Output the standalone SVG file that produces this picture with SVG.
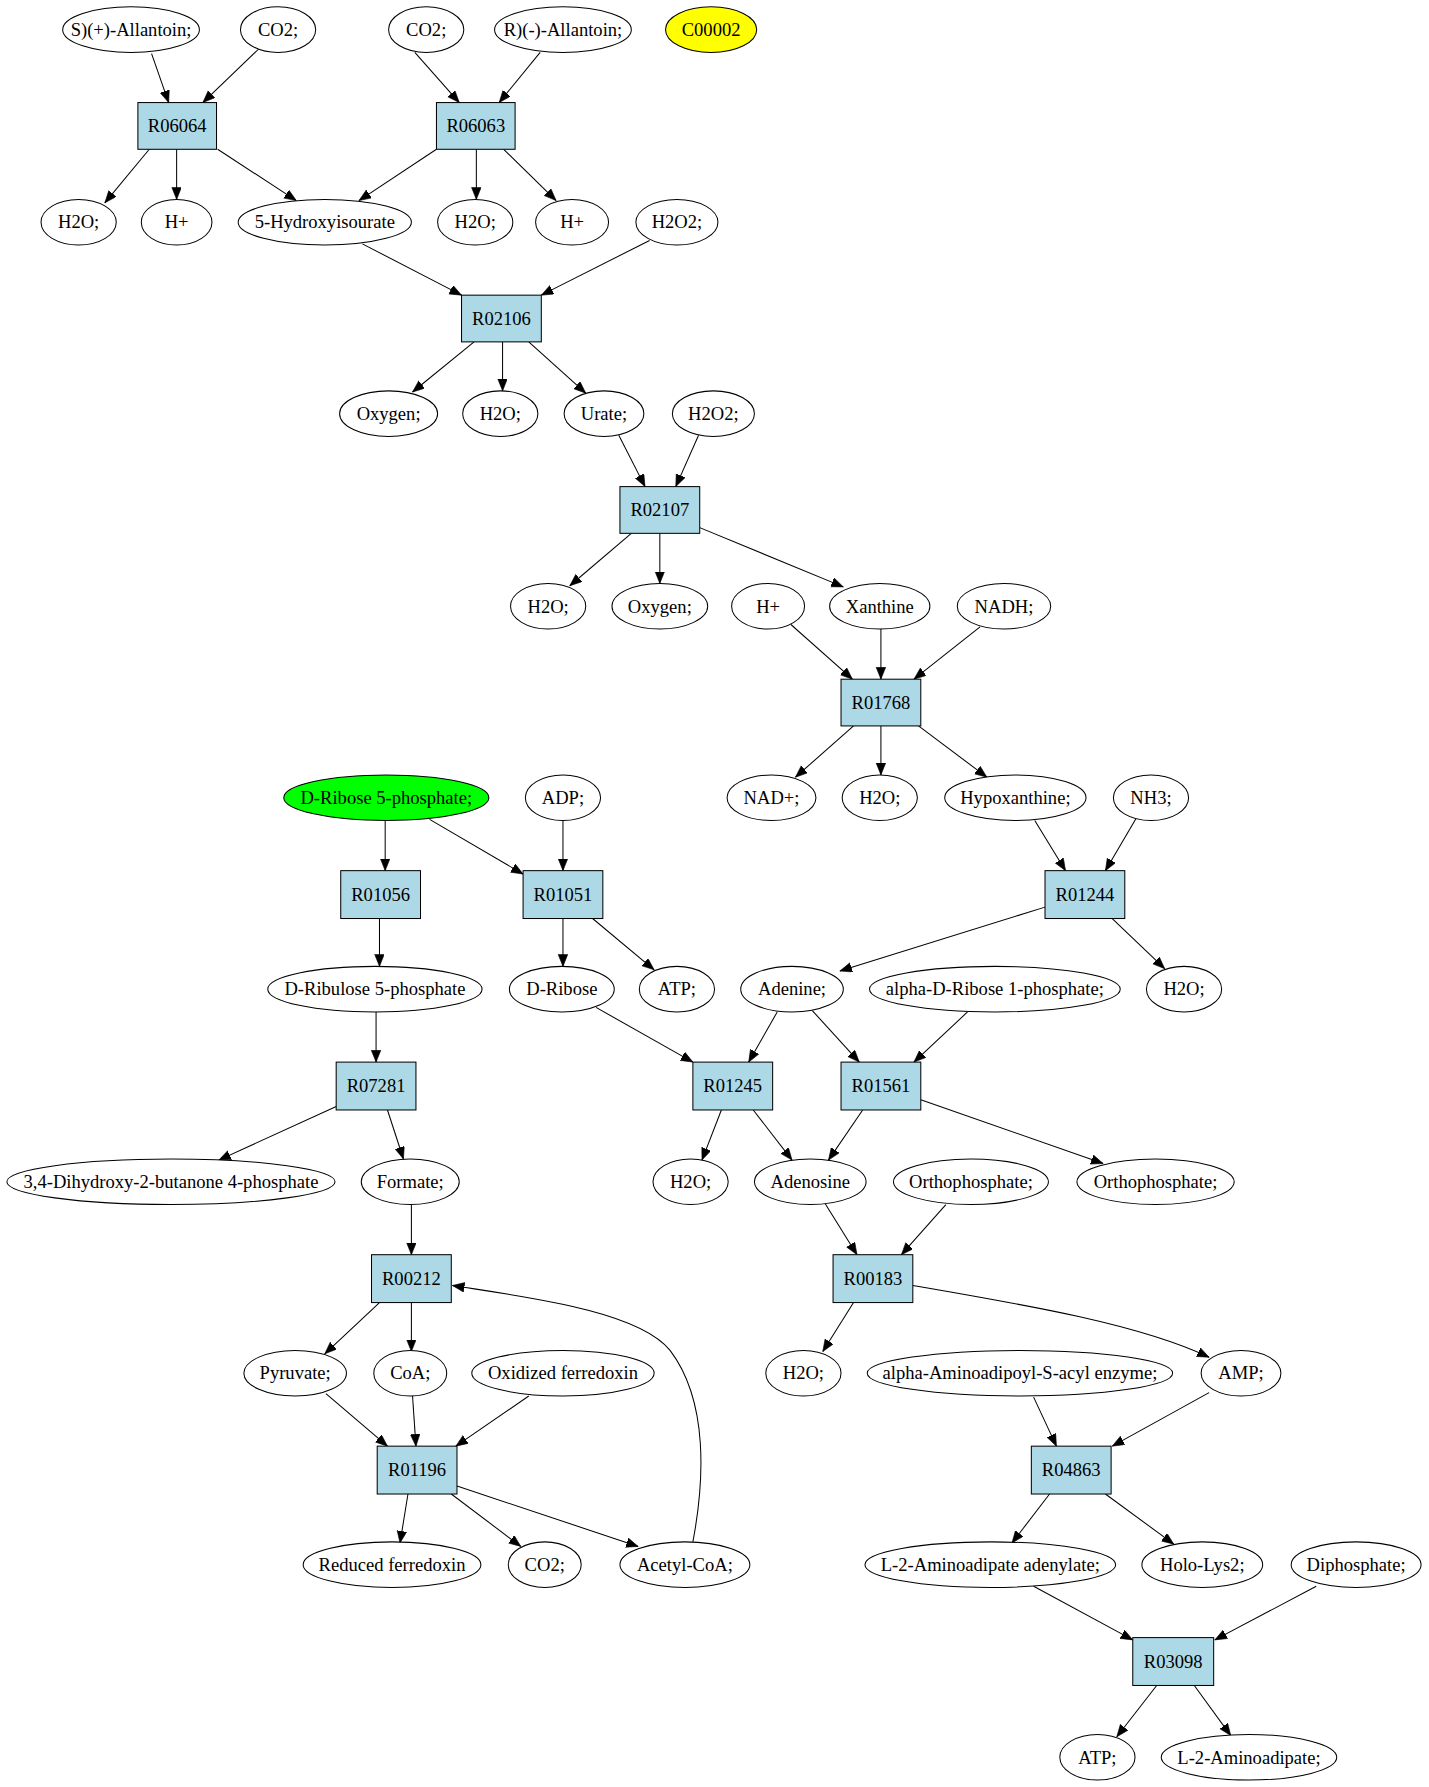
<svg xmlns="http://www.w3.org/2000/svg" width="1429" height="1787" viewBox="0 0 1429 1787">
<style>
.c ellipse{fill:#fff;stroke:#000;stroke-width:0.9}
.r rect{fill:#add8e6;stroke:#000;stroke-width:0.9}
text{font-family:"Liberation Serif","Times New Roman",serif;font-size:16.3px;text-anchor:middle;fill:#000}
.e line,.e path{stroke:#000;stroke-width:0.9;fill:none;marker-end:url(#a)}
</style>
<defs>
<marker id="a" markerUnits="userSpaceOnUse" markerWidth="12" markerHeight="10" refX="10.5" refY="4.2" orient="auto">
<path d="M0,0 L10.5,4.2 L0,8.4 z" fill="#000" stroke="#000" stroke-width="0.5"/>
</marker>
</defs>
<rect width="1429" height="1787" fill="#fff"/>
<g transform="scale(1.1396)">
<g class="e" id="edges">
<line x1="133" y1="47" x2="148" y2="90"/>
<line x1="227" y1="43" x2="178" y2="90"/>
<line x1="364" y1="46" x2="403" y2="90"/>
<line x1="474" y1="46" x2="438" y2="90"/>
<line x1="131" y1="131" x2="92" y2="178"/>
<line x1="155" y1="131" x2="155" y2="175"/>
<line x1="191" y1="131" x2="260" y2="176"/>
<line x1="383" y1="131" x2="315" y2="176"/>
<line x1="418" y1="131" x2="418" y2="175"/>
<line x1="442" y1="131" x2="488" y2="176"/>
<line x1="318" y1="214" x2="405" y2="259"/>
<line x1="570" y1="211" x2="475" y2="259"/>
<line x1="416" y1="300" x2="362" y2="344"/>
<line x1="441" y1="300" x2="441" y2="343"/>
<line x1="464" y1="300" x2="514" y2="345"/>
<line x1="543" y1="382" x2="566" y2="427"/>
<line x1="613" y1="382" x2="593" y2="427"/>
<line x1="554" y1="468" x2="500" y2="514"/>
<line x1="579" y1="468" x2="579" y2="512"/>
<line x1="614" y1="463" x2="740" y2="515"/>
<line x1="694" y1="548" x2="748" y2="596"/>
<line x1="773" y1="552" x2="773" y2="596"/>
<line x1="860" y1="550" x2="802" y2="596"/>
<line x1="749" y1="637" x2="698" y2="682"/>
<line x1="773" y1="637" x2="773" y2="680"/>
<line x1="806" y1="637" x2="866" y2="682"/>
<line x1="908" y1="720" x2="935" y2="764"/>
<line x1="997" y1="718" x2="970" y2="764"/>
<line x1="917" y1="796" x2="737" y2="852"/>
<line x1="976" y1="806" x2="1022" y2="850"/>
<line x1="338" y1="720" x2="338" y2="764"/>
<line x1="377" y1="719" x2="459" y2="767"/>
<line x1="494" y1="720" x2="494" y2="764"/>
<line x1="333" y1="806" x2="333" y2="848"/>
<line x1="494" y1="806" x2="494" y2="848"/>
<line x1="520" y1="806" x2="574" y2="851"/>
<line x1="330" y1="888" x2="330" y2="932"/>
<line x1="295" y1="971" x2="192" y2="1018"/>
<line x1="340" y1="974" x2="354" y2="1017"/>
<line x1="523" y1="884" x2="608" y2="932"/>
<line x1="682" y1="888" x2="657" y2="932"/>
<line x1="713" y1="887" x2="754" y2="932"/>
<line x1="849" y1="888" x2="802" y2="932"/>
<line x1="633" y1="974" x2="616" y2="1018"/>
<line x1="661" y1="974" x2="695" y2="1018"/>
<line x1="757" y1="974" x2="727" y2="1018"/>
<line x1="808" y1="965" x2="968" y2="1021"/>
<line x1="724" y1="1056" x2="752" y2="1101"/>
<line x1="830" y1="1057" x2="791" y2="1101"/>
<line x1="749" y1="1143" x2="722" y2="1186"/>
<path d="M801,1128 C900,1145 1000,1162 1061,1191"/>
<line x1="361" y1="1057" x2="361" y2="1101"/>
<line x1="333" y1="1143" x2="285" y2="1188"/>
<line x1="361" y1="1143" x2="361" y2="1186"/>
<line x1="286" y1="1223" x2="340" y2="1269"/>
<line x1="362" y1="1225" x2="365" y2="1269"/>
<line x1="464" y1="1225" x2="400" y2="1269"/>
<line x1="358" y1="1311" x2="351" y2="1354"/>
<line x1="396" y1="1311" x2="457" y2="1357"/>
<line x1="401" y1="1304" x2="560" y2="1357"/>
<path d="M608,1353 C618,1300 622,1230 588,1185 C560,1150 460,1138 397,1128"/>
<line x1="907" y1="1226" x2="927" y2="1269"/>
<line x1="1061" y1="1222" x2="976" y2="1269"/>
<line x1="921" y1="1311" x2="888" y2="1354"/>
<line x1="970" y1="1311" x2="1030" y2="1355"/>
<line x1="907" y1="1392" x2="994" y2="1439"/>
<line x1="1155" y1="1392" x2="1066" y2="1439"/>
<line x1="1015" y1="1479" x2="980" y2="1524"/>
<line x1="1048" y1="1479" x2="1080" y2="1523"/>
</g>
<g class="c" id="c_sallantoin"><ellipse cx="115" cy="26" rx="60" ry="20"/><text x="115" y="31.5">S)(+)-Allantoin;</text></g>
<g class="c" id="c_co2_a"><ellipse cx="244" cy="26" rx="33" ry="20"/><text x="244" y="31.5">CO2;</text></g>
<g class="c" id="c_co2_b"><ellipse cx="374" cy="26" rx="33" ry="20"/><text x="374" y="31.5">CO2;</text></g>
<g class="c" id="c_rallantoin"><ellipse cx="494" cy="26" rx="60" ry="20"/><text x="494" y="31.5">R)(-)-Allantoin;</text></g>
<g id="c00002"><ellipse cx="624" cy="26" rx="40" ry="20" fill="#ffff00" stroke="#000" stroke-width="0.9"/><text x="624" y="31.5">C00002</text></g>
<g class="r" id="R06064"><rect x="121" y="90" width="69" height="41"/><text x="155.5" y="116">R06064</text></g>
<g class="r" id="R06063"><rect x="383" y="90" width="69" height="41"/><text x="417.5" y="116">R06063</text></g>
<g class="c" id="c_h2o_1"><ellipse cx="69" cy="195" rx="33" ry="20"/><text x="69" y="200.5">H2O;</text></g>
<g class="c" id="c_hp_1"><ellipse cx="155" cy="195" rx="31" ry="20"/><text x="155" y="200.5">H+</text></g>
<g class="c" id="c_5hiu"><ellipse cx="285" cy="195" rx="76" ry="20"/><text x="285" y="200.5">5-Hydroxyisourate</text></g>
<g class="c" id="c_h2o_2"><ellipse cx="417" cy="195" rx="33" ry="20"/><text x="417" y="200.5">H2O;</text></g>
<g class="c" id="c_hp_2"><ellipse cx="502" cy="195" rx="32" ry="20"/><text x="502" y="200.5">H+</text></g>
<g class="c" id="c_h2o2_1"><ellipse cx="594" cy="195" rx="36" ry="20"/><text x="594" y="200.5">H2O2;</text></g>
<g class="r" id="R02106"><rect x="405" y="259" width="70" height="41"/><text x="440" y="285">R02106</text></g>
<g class="c" id="c_oxy_1"><ellipse cx="341" cy="363" rx="43" ry="20"/><text x="341" y="368.5">Oxygen;</text></g>
<g class="c" id="c_h2o_3"><ellipse cx="439" cy="363" rx="33" ry="20"/><text x="439" y="368.5">H2O;</text></g>
<g class="c" id="c_urate"><ellipse cx="530" cy="363" rx="35" ry="20"/><text x="530" y="368.5">Urate;</text></g>
<g class="c" id="c_h2o2_2"><ellipse cx="626" cy="363" rx="36" ry="20"/><text x="626" y="368.5">H2O2;</text></g>
<g class="r" id="R02107"><rect x="544" y="427" width="70" height="41"/><text x="579" y="453">R02107</text></g>
<g class="c" id="c_h2o_4"><ellipse cx="481" cy="532" rx="33" ry="20"/><text x="481" y="537.5">H2O;</text></g>
<g class="c" id="c_oxy_2"><ellipse cx="579" cy="532" rx="42" ry="20"/><text x="579" y="537.5">Oxygen;</text></g>
<g class="c" id="c_hp_3"><ellipse cx="674" cy="532" rx="32" ry="20"/><text x="674" y="537.5">H+</text></g>
<g class="c" id="c_xanthine"><ellipse cx="772" cy="532" rx="44" ry="20"/><text x="772" y="537.5">Xanthine</text></g>
<g class="c" id="c_nadh"><ellipse cx="881" cy="532" rx="41" ry="20"/><text x="881" y="537.5">NADH;</text></g>
<g class="r" id="R01768"><rect x="738" y="596" width="70" height="41"/><text x="773" y="622">R01768</text></g>
<g id="c_r5p"><ellipse cx="339" cy="700" rx="90" ry="20" fill="#00ff00" stroke="#000" stroke-width="0.9"/><text x="339" y="705.5">D-Ribose 5-phosphate;</text></g>
<g class="c" id="c_adp"><ellipse cx="494" cy="700" rx="33" ry="20"/><text x="494" y="705.5">ADP;</text></g>
<g class="c" id="c_nadp"><ellipse cx="677" cy="700" rx="39" ry="20"/><text x="677" y="705.5">NAD+;</text></g>
<g class="c" id="c_h2o_5"><ellipse cx="772" cy="700" rx="33" ry="20"/><text x="772" y="705.5">H2O;</text></g>
<g class="c" id="c_hypox"><ellipse cx="891" cy="700" rx="62" ry="20"/><text x="891" y="705.5">Hypoxanthine;</text></g>
<g class="c" id="c_nh3"><ellipse cx="1010" cy="700" rx="33" ry="20"/><text x="1010" y="705.5">NH3;</text></g>
<g class="r" id="R01056"><rect x="299" y="764" width="70" height="42"/><text x="334" y="790.5">R01056</text></g>
<g class="r" id="R01051"><rect x="459" y="764" width="70" height="42"/><text x="494" y="790.5">R01051</text></g>
<g class="r" id="R01244"><rect x="917" y="764" width="70" height="42"/><text x="952" y="790.5">R01244</text></g>
<g class="c" id="c_ru5p"><ellipse cx="329" cy="868" rx="94" ry="20"/><text x="329" y="873.5">D-Ribulose 5-phosphate</text></g>
<g class="c" id="c_ribose"><ellipse cx="493" cy="868" rx="46" ry="20"/><text x="493" y="873.5">D-Ribose</text></g>
<g class="c" id="c_atp_1"><ellipse cx="594" cy="868" rx="33" ry="20"/><text x="594" y="873.5">ATP;</text></g>
<g class="c" id="c_adenine"><ellipse cx="695" cy="868" rx="45" ry="20"/><text x="695" y="873.5">Adenine;</text></g>
<g class="c" id="c_r1p"><ellipse cx="873" cy="868" rx="110" ry="20"/><text x="873" y="873.5">alpha-D-Ribose 1-phosphate;</text></g>
<g class="c" id="c_h2o_6"><ellipse cx="1039" cy="868" rx="33" ry="20"/><text x="1039" y="873.5">H2O;</text></g>
<g class="r" id="R07281"><rect x="295" y="932" width="70" height="42"/><text x="330" y="958.5">R07281</text></g>
<g class="r" id="R01245"><rect x="608" y="932" width="70" height="42"/><text x="643" y="958.5">R01245</text></g>
<g class="r" id="R01561"><rect x="738" y="932" width="70" height="42"/><text x="773" y="958.5">R01561</text></g>
<g class="c" id="c_dhbp"><ellipse cx="150" cy="1037" rx="144" ry="20"/><text x="150" y="1042.5">3,4-Dihydroxy-2-butanone 4-phosphate</text></g>
<g class="c" id="c_formate"><ellipse cx="360" cy="1037" rx="43" ry="20"/><text x="360" y="1042.5">Formate;</text></g>
<g class="c" id="c_h2o_7"><ellipse cx="606" cy="1037" rx="33" ry="20"/><text x="606" y="1042.5">H2O;</text></g>
<g class="c" id="c_adenosine"><ellipse cx="711" cy="1037" rx="49" ry="20"/><text x="711" y="1042.5">Adenosine</text></g>
<g class="c" id="c_pi_1"><ellipse cx="852" cy="1037" rx="68" ry="20"/><text x="852" y="1042.5">Orthophosphate;</text></g>
<g class="c" id="c_pi_2"><ellipse cx="1014" cy="1037" rx="69" ry="20"/><text x="1014" y="1042.5">Orthophosphate;</text></g>
<g class="r" id="R00212"><rect x="326" y="1101" width="70" height="42"/><text x="361" y="1127.5">R00212</text></g>
<g class="r" id="R00183"><rect x="731" y="1101" width="70" height="42"/><text x="766" y="1127.5">R00183</text></g>
<g class="c" id="c_pyruvate"><ellipse cx="259" cy="1205" rx="45" ry="20"/><text x="259" y="1210.5">Pyruvate;</text></g>
<g class="c" id="c_coa"><ellipse cx="360" cy="1205" rx="32" ry="20"/><text x="360" y="1210.5">CoA;</text></g>
<g class="c" id="c_oxfd"><ellipse cx="494" cy="1205" rx="80" ry="20"/><text x="494" y="1210.5">Oxidized ferredoxin</text></g>
<g class="c" id="c_h2o_8"><ellipse cx="705" cy="1205" rx="33" ry="20"/><text x="705" y="1210.5">H2O;</text></g>
<g class="c" id="c_aasa"><ellipse cx="895" cy="1205" rx="134" ry="20"/><text x="895" y="1210.5">alpha-Aminoadipoyl-S-acyl enzyme;</text></g>
<g class="c" id="c_amp"><ellipse cx="1089" cy="1205" rx="35" ry="20"/><text x="1089" y="1210.5">AMP;</text></g>
<g class="r" id="R01196"><rect x="331" y="1269" width="70" height="42"/><text x="366" y="1295.5">R01196</text></g>
<g class="r" id="R04863"><rect x="905" y="1269" width="70" height="42"/><text x="940" y="1295.5">R04863</text></g>
<g class="c" id="c_redfd"><ellipse cx="344" cy="1373" rx="78" ry="20"/><text x="344" y="1378.5">Reduced ferredoxin</text></g>
<g class="c" id="c_co2_c"><ellipse cx="478" cy="1373" rx="32" ry="20"/><text x="478" y="1378.5">CO2;</text></g>
<g class="c" id="c_acoa"><ellipse cx="601" cy="1373" rx="57" ry="20"/><text x="601" y="1378.5">Acetyl-CoA;</text></g>
<g class="c" id="c_l2aa_ad"><ellipse cx="869" cy="1373" rx="110" ry="20"/><text x="869" y="1378.5">L-2-Aminoadipate adenylate;</text></g>
<g class="c" id="c_hololys2"><ellipse cx="1055" cy="1373" rx="53" ry="20"/><text x="1055" y="1378.5">Holo-Lys2;</text></g>
<g class="c" id="c_ppi"><ellipse cx="1190" cy="1373" rx="57" ry="20"/><text x="1190" y="1378.5">Diphosphate;</text></g>
<g class="r" id="R03098"><rect x="994" y="1437" width="71" height="42"/><text x="1029.5" y="1463.5">R03098</text></g>
<g class="c" id="c_atp_2"><ellipse cx="963" cy="1542" rx="33" ry="20"/><text x="963" y="1547.5">ATP;</text></g>
<g class="c" id="c_l2aa"><ellipse cx="1096" cy="1542" rx="77" ry="20"/><text x="1096" y="1547.5">L-2-Aminoadipate;</text></g>
</g>
</svg>
